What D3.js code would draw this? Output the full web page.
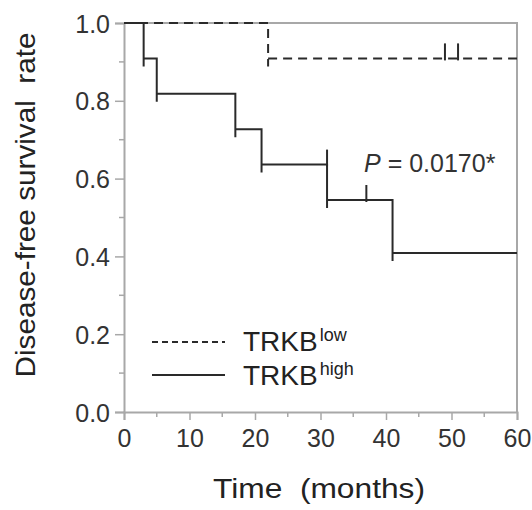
<!DOCTYPE html>
<html>
<head>
<meta charset="utf-8">
<script src="https://cdn.jsdelivr.net/npm/d3@7"></script>
<style>
  body { margin: 0; background: #fff; }
  text { font-family: Arial, "Liberation Sans", sans-serif; }
</style>
</head>
<body>
<script>
// KM curves
var lowSteps = [[0, 1.0], [22, 0.909]];
var highSteps = [[0, 1.0], [3, 0.909], [5, 0.818], [17, 0.727], [21, 0.636], [31, 0.545], [41, 0.409]];
var lowCensor = [49, 51];
var highCensor = [31, 37];
var xTicks = [0, 10, 20, 30, 40, 50, 60];
var yTicks = [0, 0.2, 0.4, 0.6, 0.8, 1.0];
var pLabel = "0.0170*";

var w = 532, h = 510;
var pLeft = 124, pRight = 517, pTop = 23, pBottom = 412;
var lineCol = "#2a2a2a", axisCol = "#a8a8a8", textCol = "#333";

var svg = d3.select("body").append("svg")
    .attr("width", w)
    .attr("height", h);

var xScale = d3.scaleLinear().domain([0, 60]).range([pLeft, pRight]);
var yScale = d3.scaleLinear().domain([0, 1]).range([pBottom, pTop]);

// frame (top + right)
svg.append("path")
    .attr("d", "M" + pLeft + "," + pTop + "H" + pRight + "V" + pBottom)
    .attr("fill", "none")
    .attr("stroke", axisCol)
    .attr("stroke-width", 2);

// Axes
var xAxis = d3.axisBottom(xScale).tickValues(xTicks).tickSize(8).tickPadding(4).tickFormat(d3.format("d"));
var yAxis = d3.axisLeft(yScale).tickValues(yTicks).tickSize(9).tickPadding(5).tickFormat(d3.format(".1f"));

var gx = svg.append("g")
    .attr("transform", "translate(0," + pBottom + ")")
    .call(xAxis);
var gy = svg.append("g")
    .attr("transform", "translate(" + pLeft + ",0)")
    .call(yAxis);

// minor ticks
gx.selectAll(".minor").data(d3.range(5, 60, 10)).enter().append("line")
    .attr("x1", function(d) { return xScale(d); })
    .attr("x2", function(d) { return xScale(d); })
    .attr("y1", 0).attr("y2", 5);
gy.selectAll(".minor").data(d3.range(0.1, 1, 0.2)).enter().append("line")
    .attr("y1", function(d) { return yScale(d); })
    .attr("y2", function(d) { return yScale(d); })
    .attr("x1", 0).attr("x2", -5);

[gx, gy].forEach(function(g) {
    g.select(".domain").attr("stroke", axisCol).attr("stroke-width", 2);
    g.selectAll("line").attr("stroke", axisCol).attr("stroke-width", 1.5);
    g.selectAll("text").attr("fill", textCol).style("font-size", "25px");
});
gx.selectAll(".tick text").attr("dy", "0.9em");
gy.selectAll(".tick text").attr("dy", "0.36em");

// step path for a KM curve, with the little overshoot below each drop
function stepPath(steps) {
    var d = "M" + xScale(steps[0][0]) + "," + yScale(steps[0][1]);
    for (var i = 1; i < steps.length; i++) {
        var x = xScale(steps[i][0]);
        d += "H" + x + "V" + (yScale(steps[i][1]) + 8) + "M" + x + "," + yScale(steps[i][1]);
    }
    d += "H" + xScale(60);
    return d;
}
function levelAt(steps, t) {
    var v = steps[0][1];
    steps.forEach(function(s) { if (s[0] < t) v = s[1]; });
    return v;
}

svg.append("path")
    .attr("d", stepPath(lowSteps))
    .attr("fill", "none")
    .attr("stroke", lineCol)
    .attr("stroke-width", 2)
    .attr("stroke-dasharray", "9,6");

svg.append("path")
    .attr("d", stepPath(highSteps))
    .attr("fill", "none")
    .attr("stroke", lineCol)
    .attr("stroke-width", 2);

// censor marks
function censor(times, steps) {
    svg.append("g").selectAll("line").data(times).enter().append("line")
        .attr("x1", function(d) { return xScale(d); })
        .attr("x2", function(d) { return xScale(d); })
        .attr("y1", function(d) { return yScale(levelAt(steps, d)) - 15; })
        .attr("y2", function(d) { return yScale(levelAt(steps, d)) + 2; })
        .attr("stroke", lineCol)
        .attr("stroke-width", 2);
}
censor(lowCensor, lowSteps);
censor(highCensor, highSteps);

// p value
var pt = svg.append("text")
    .attr("x", 364).attr("y", 172)
    .attr("fill", textCol)
    .style("font-size", "25px");
pt.append("tspan").style("font-style", "italic").text("P");
pt.append("tspan").text(" = " + pLabel);

// legend
svg.append("line").attr("x1", 152).attr("x2", 225).attr("y1", 342).attr("y2", 342)
    .attr("stroke", lineCol).attr("stroke-width", 2).attr("stroke-dasharray", "6,4");
svg.append("line").attr("x1", 152).attr("x2", 225).attr("y1", 375).attr("y2", 375)
    .attr("stroke", lineCol).attr("stroke-width", 2);

var l1 = svg.append("text").attr("x", 243).attr("y", 351).attr("fill", "#222").style("font-size", "28px");
l1.append("tspan").text("TRKB");
l1.append("tspan").attr("dy", -10).attr("dx", 2).style("font-size", "18px").text("low");
var l2 = svg.append("text").attr("x", 243).attr("y", 385).attr("fill", "#222").style("font-size", "28px");
l2.append("tspan").text("TRKB");
l2.append("tspan").attr("dy", -10).attr("dx", 2).style("font-size", "18px").text("high");

// axis titles
svg.append("text")
    .attr("transform", "translate(35,205) rotate(-90)")
    .attr("text-anchor", "middle")
    .attr("fill", "#222")
    .attr("textLength", 345)
    .attr("lengthAdjust", "spacingAndGlyphs")
    .style("font-size", "28px")
    .style("white-space", "pre")
    .text("Disease-free survival  rate");

svg.append("text")
    .attr("x", 319).attr("y", 498)
    .attr("text-anchor", "middle")
    .attr("fill", "#222")
    .attr("textLength", 212)
    .attr("lengthAdjust", "spacingAndGlyphs")
    .style("font-size", "27px")
    .style("white-space", "pre")
    .text("Time  (months)");
</script>
</body>
</html>
